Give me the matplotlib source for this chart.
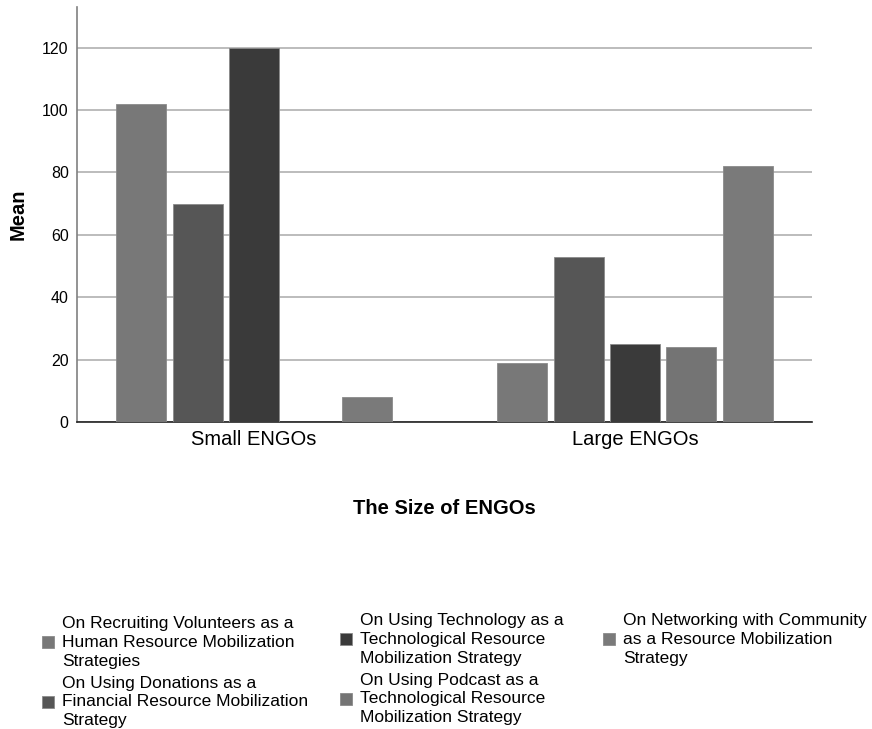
#!/usr/bin/env python3

import numpy as np
import matplotlib.pyplot as plt

plt.rcParams['font.family'] = ['Liberation Sans', 'DejaVu Sans']

# data
groups = ['Small ENGOs', 'Large ENGOs']
series = [
    'On Recruiting Volunteers as a\nHuman Resource Mobilization\nStrategies',
    'On Using Donations as a\nFinancial Resource Mobilization\nStrategy',
    'On Using Technology as a\nTechnological Resource\nMobilization Strategy',
    'On Using Podcast as a\nTechnological Resource\nMobilization Strategy',
    'On Networking with Community\nas a Resource Mobilization\nStrategy',
]
volunteers = [102, 19]
donations = [70, 53]
technology = [120, 25]
podcast = [0, 24]
networking = [8, 82]
yticks = [0, 20, 40, 60, 80, 100, 120]

colors = ['#787878', '#565656', '#3a3a3a', '#747474', '#7a7a7a']

fig = plt.figure(figsize=(8.72, 7.29), dpi=100)
ax = fig.add_axes([0.0883, 0.4211, 0.8429, 0.5693])

x = np.arange(len(groups))
step = 0.148
width = 0.131
handles = []
for i, vals in enumerate([volunteers, donations, technology, podcast, networking]):
    b = ax.bar(x + (i - 2) * step, vals, width, color=colors[i],
               edgecolor='#8a8a8a', linewidth=0.6, zorder=3)
    handles.append(b)

ax.set_xlim(-0.465, 1.465)
ax.set_ylim(0, 133)
ax.set_yticks(yticks)
ax.set_xticks(x)
ax.set_xticklabels(groups, fontsize=14.5)
ax.tick_params(axis='y', labelsize=11.5, length=0, pad=6)
ax.tick_params(axis='x', length=0, pad=6)
ax.grid(axis='y', color='#b0b0b0', linewidth=1.2, zorder=0)

for s in ['top', 'right']:
    ax.spines[s].set_visible(False)
ax.spines['left'].set_color('#808080')
ax.spines['left'].set_linewidth(1.2)
ax.spines['bottom'].set_color('#222222')
ax.spines['bottom'].set_linewidth(1.2)

ax.set_ylabel('Mean', fontsize=14.5, fontweight='bold', va='center')
ax.yaxis.set_label_coords(-0.08, 0.5)
ax.set_xlabel('The Size of ENGOs', fontsize=14.5, fontweight='bold', labelpad=36)

# legend in three columns, placed one by one
cols = [([0, 1], 42, 616), ([2, 3], 340, 613), ([4], 603, 613)]
for idx, px, py in cols:
    leg = fig.legend([handles[k] for k in idx], [series[k] for k in idx],
                     loc='upper left', bbox_to_anchor=(px / 872, 1 - py / 729),
                     frameon=False, fontsize=12.5, borderpad=0, borderaxespad=0,
                     handlelength=0.7, handleheight=0.7, handletextpad=0.45,
                     labelspacing=0.4)
    for t in leg.get_texts():
        t.set_linespacing(1.32)

fig.savefig('out.png', dpi=100)
